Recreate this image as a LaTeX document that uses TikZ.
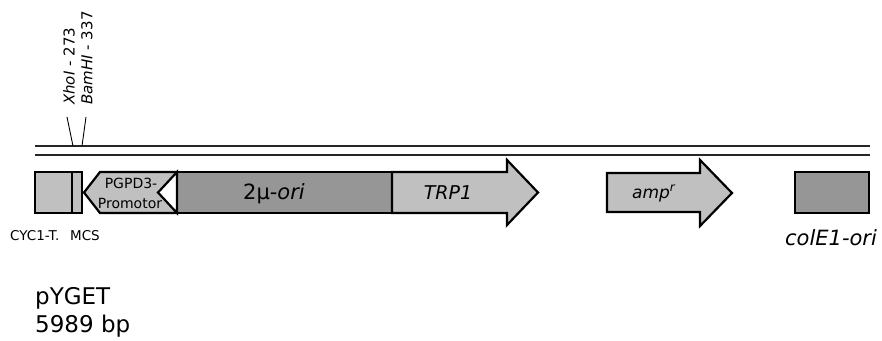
\documentclass[tikz,border=0pt]{standalone}
\usepackage{fontspec}
\setmainfont{DejaVu Sans}
\definecolor{lightgene}{RGB}{192,192,192}
\definecolor{darkgene}{RGB}{150,150,150}
\begin{document}
\begin{tikzpicture}[x=1pt,y=-1pt,
  feat/.style={draw=black,line width=2.2pt,line join=miter},
  backbone/.style={line width=2pt,draw=black!85},
  tick/.style={line width=0.9pt},
  lbl/.style={inner sep=0pt},
  site/.style={font=\fontsize{15}{17}\selectfont,inner sep=0pt,rotate=90,anchor=west}]
\useasboundingbox (0,0) rectangle (882,340);
% backbone
\draw[backbone] (35,146) -- (870,146);
\draw[backbone] (35,155) -- (870,155);
% features
\draw[feat,fill=lightgene] (35,172) rectangle (72,213);
\draw[feat,fill=lightgene] (72,172) rectangle (82,213);
\draw[feat,fill=lightgene] (84,192.5) -- (100,172) -- (177,172) -- (177,213) -- (100,213) -- cycle;
\draw[feat,fill=darkgene] (177,172) rectangle (392,213);
\draw[feat,fill=lightgene] (392,172) -- (507,172) -- (507,160) -- (538,192.5) -- (507,225) -- (507,213) -- (392,213) -- cycle;
\draw[feat,fill=lightgene] (607,173) -- (700,173) -- (700,160) -- (732,193) -- (700,226) -- (700,212) -- (607,212) -- cycle;
\draw[feat,fill=darkgene] (795,172) rectangle (869,213);
% labels inside
\node[lbl,anchor=base,font=\fontsize{14}{20}\selectfont] (prom1) at (131,188) {PGPD3-};
\node[lbl,anchor=base,font=\fontsize{14}{20}\selectfont] (prom2) at (130,208) {Promotor};
\draw[feat,fill=white] (177,172) -- (158,192.5) -- (177,213) -- cycle;
\node[lbl,anchor=base,font=\fontsize{21}{24}\selectfont] (ori) at (274,199) {2μ-\textit{ori}};
\node[lbl,anchor=base,font=\fontsize{19}{22}\selectfont] (trp) at (448,199) {\textit{TRP1}};
\node[lbl,anchor=base,font=\fontsize{17}{20}\selectfont] (amp) at (654,198) {\textit{amp}\textsuperscript{\textit{r}}};
\node[lbl,anchor=base,font=\fontsize{21}{24}\selectfont] (col) at (831,245) {\textit{colE1-ori}};
\node[lbl,anchor=base west,font=\fontsize{13.5}{16}\selectfont] (cyc) at (10,240) {CYC1-T.};
\node[lbl,anchor=base east,font=\fontsize{13.5}{16}\selectfont] (mcs) at (100,240) {MCS};
% restriction sites
\node[site] (xho) at (69,105) {\textit{XhoI} - 273};
\node[site] (bam) at (87,105) {\textit{BamHI} - 337};
\coordinate (xhoA) at (67,117);
\coordinate (xhoB) at (73,146);
\coordinate (bamA) at (86,117);
\coordinate (bamB) at (82,146);
\draw[tick] (xhoA) -- (xhoB);
\draw[tick] (bamA) -- (bamB);
% plasmid name
\node[lbl,anchor=base west,font=\fontsize{23}{28}\selectfont] (name) at (35,304) {pYGET};
\node[lbl,anchor=base west,font=\fontsize{23}{28}\selectfont] (size) at (35,332) {5989 bp};
\end{tikzpicture}
\end{document}
